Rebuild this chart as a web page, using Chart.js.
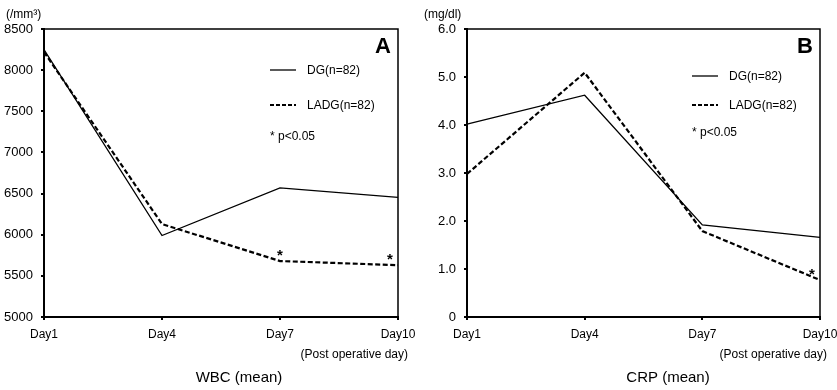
<!DOCTYPE html>
<html>
<head>
<meta charset="utf-8">
<script src="https://cdn.jsdelivr.net/npm/chart.js@4"></script>
<style>
  html, body { margin: 0; padding: 0; background: #fff; }
  #wrap { position: relative; width: 837px; height: 390px; overflow: hidden; }
  #c1 { position: absolute; left: 0; top: 0; }
  #c2 { position: absolute; left: 417px; top: 0; }
</style>
</head>
<body>
<div id="wrap">
  <canvas id="c1" width="418" height="390"></canvas>
  <canvas id="c2" width="420" height="390"></canvas>
</div>
<script>
// ---- data ----
const days = ['Day1', 'Day4', 'Day7', 'Day10'];
const wbcDG   = [8250, 5990, 6570, 6455];
const wbcLADG = [8220, 6130, 5680, 5630];
const crpDG   = [4.02, 4.62, 1.92, 1.66];
const crpLADG = [2.98, 5.09, 1.79, 0.77];
const wbcTicks = [5000, 5500, 6000, 6500, 7000, 7500, 8000, 8500];
const crpTicks = [0, 1, 2, 3, 4, 5, 6];
const crpTickLabels = ['0', '1.0', '2.0', '3.0', '4.0', '5.0', '6.0'];
const wbcSig = ['Day7', 'Day10'];
const crpSig = ['Day10'];
const seriesNames = ['DG(n=82)', 'LADG(n=82)'];

const FONT = '"Liberation Sans", Arial, sans-serif';

const decoPlugin = {
  id: 'deco',
  afterDatasetsDraw(chart, args, o) {
    const ctx = chart.ctx;
    const a = chart.chartArea;
    const xs = chart.scales.x, ys = chart.scales.y;
    ctx.save();
    // frame top & right
    ctx.strokeStyle = '#000';
    ctx.lineWidth = 1.5;
    ctx.beginPath();
    ctx.moveTo(a.left, a.top);
    ctx.lineTo(a.right, a.top);
    ctx.lineTo(a.right, a.bottom);
    ctx.stroke();

    ctx.fillStyle = '#000';
    // panel letter
    ctx.font = 'bold 22px ' + FONT;
    ctx.textAlign = 'center';
    ctx.textBaseline = 'middle';
    ctx.fillText(o.letter, a.right - 15, 47);

    // legend
    ctx.lineWidth = 1.3;
    ctx.setLineDash([]);
    ctx.beginPath();
    ctx.moveTo(a.right - 128, o.legY[0]);
    ctx.lineTo(a.right - 102, o.legY[0]);
    ctx.stroke();
    ctx.lineWidth = 2;
    ctx.setLineDash([4, 2]);
    ctx.beginPath();
    ctx.moveTo(a.right - 128, o.legY[1]);
    ctx.lineTo(a.right - 102, o.legY[1]);
    ctx.stroke();
    ctx.setLineDash([]);
    ctx.font = '12px ' + FONT;
    ctx.textAlign = 'left';
    ctx.fillText(seriesNames[0], a.right - 91, o.legY[0] + 1);
    ctx.fillText(seriesNames[1], a.right - 91, o.legY[1] + 1);
    ctx.fillText('* p<0.05', a.right - 128, o.legY[2]);

    // significance asterisks on LADG
    ctx.font = 'bold 15px ' + FONT;
    ctx.textAlign = 'center';
    ctx.textBaseline = 'alphabetic';
    const ladg = chart.data.datasets[1].data;
    o.sig.forEach(d => {
      const i = days.indexOf(d);
      let x = xs.getPixelForValue(i);
      if (i === days.length - 1) x -= 8;
      const y = ys.getPixelForValue(ladg[i]) - 1;
      ctx.fillText('*', x, y);
    });

    // unit label
    ctx.textBaseline = 'middle';
    ctx.font = '12px ' + FONT;
    ctx.textAlign = 'left';
    ctx.fillText(o.unit, o.unitX, 15);

    // x-axis note
    ctx.textAlign = 'right';
    ctx.fillText('(Post operative day)', a.right + o.noteDX, 355);

    // title
    ctx.font = '15px ' + FONT;
    ctx.textAlign = 'center';
    ctx.fillText(o.title, o.titleX, 378);
    ctx.restore();
  }
};

function makeChart(id, dg, ladg, ticks, tickLabels, yMin, yMax, yWidth, padRight, deco) {
  return new Chart(document.getElementById(id), {
    type: 'line',
    data: {
      labels: days,
      datasets: [
        { label: seriesNames[0], data: dg, borderColor: '#000', borderWidth: 1.3, pointRadius: 0, tension: 0, fill: false },
        { label: seriesNames[1], data: ladg, borderColor: '#000', borderWidth: 2.2, borderDash: [5, 2.5], pointRadius: 0, tension: 0, fill: false }
      ]
    },
    options: {
      responsive: false,
      devicePixelRatio: 1,
      animation: false,
      layout: { padding: { top: 29, right: padRight, left: 0, bottom: 0 } },
      plugins: { legend: { display: false }, tooltip: { enabled: false }, title: { display: false }, deco: deco },
      scales: {
        x: {
          type: 'category',
          offset: false,
          afterFit: s => { s.height = 73; s.paddingLeft = 0; s.paddingRight = 0; },
          grid: { display: true, drawOnChartArea: false, drawTicks: true, tickLength: 3, color: '#000', lineWidth: 2 },
          border: { display: true, color: '#000', width: 2 },
          ticks: { color: '#000', font: { family: FONT, size: 12 }, padding: 7, maxRotation: 0, autoSkip: false }
        },
        y: {
          min: yMin, max: yMax,
          afterFit: s => { s.width = yWidth; s.paddingTop = 0; s.paddingBottom = 0; },
          afterBuildTicks: s => { s.ticks = ticks.map(v => ({ value: v })); },
          grid: { display: true, drawOnChartArea: false, drawTicks: true, tickLength: 3, color: '#000', lineWidth: 2 },
          border: { display: true, color: '#000', width: 2 },
          ticks: {
            color: '#000', font: { family: FONT, size: 13 }, padding: 8,
            callback: (v, i) => tickLabels[i]
          }
        }
      }
    },
    plugins: [decoPlugin]
  });
}

makeChart('c1', wbcDG, wbcLADG, wbcTicks, wbcTicks.map(String), 5000, 8500, 44, 20,
  { letter: 'A', legY: [70, 105, 137], sig: wbcSig, unit: '(/mm³)', unitX: 6, noteDX: 10, title: 'WBC (mean)', titleX: 239 });
makeChart('c2', crpDG, crpLADG, crpTicks, crpTickLabels, 0, 6, 50, 17,
  { letter: 'B', legY: [76, 105, 133], sig: crpSig, unit: '(mg/dl)', unitX: 7, noteDX: 7, title: 'CRP (mean)', titleX: 251 });
</script>
</body>
</html>
